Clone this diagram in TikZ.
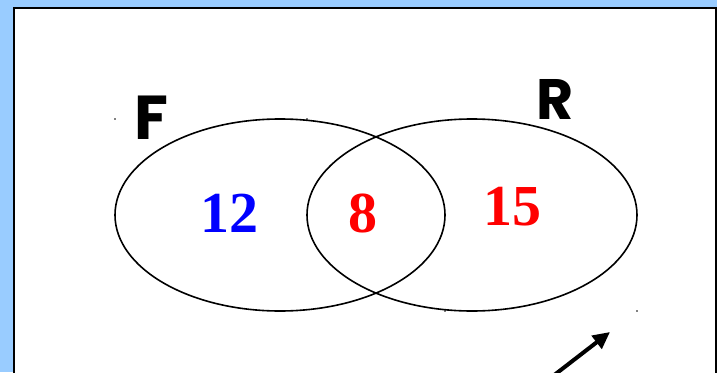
\documentclass[tikz,border=0pt]{standalone}
\usepackage{fontspec}
\usepackage{xcolor}
\usepackage{tikz}
\usetikzlibrary{arrows.meta,positioning}
\setmainfont{Liberation Serif}
\newfontfamily\setfont{Poppins}
\definecolor{slideBlue}{RGB}{153,204,255}
\definecolor{vennBlue}{RGB}{0,0,255}
\definecolor{vennRed}{RGB}{255,0,0}
\tikzset{
  setname/.style={inner sep=0pt, font=\setfont\bfseries\fontsize{62}{62}\selectfont},
  countlabel/.style={inner sep=0pt, font=\bfseries\fontsize{58}{58}\selectfont},
  handle/.style={fill=black, inner sep=0pt, minimum size=1.8pt, circle},
}

\begin{document}
\begin{tikzpicture}[x=1pt,y=-1pt]
    \useasboundingbox (0,0) rectangle (717,372);
    % slide frame
    \fill[slideBlue] (0,0) rectangle (717,372);
    \filldraw[fill=white, draw=black, line width=2pt] (13.5,7.5) rectangle (715.5,390);

    % the two sets
    \draw[line width=1.6pt] (280,215) ellipse [x radius=165, y radius=96];
    \draw[line width=1.6pt] (472,215) ellipse [x radius=165, y radius=96];

    % selection handles
    \node[handle] (hFa) at (115,119) {};
    \node[handle] (hFb) at (445,311) {};
    \node[handle] (hRa) at (307,119) {};
    \node[handle] (hRb) at (637,311) {};

    % labels
    \node[setname] (F) at (151,118) {F};
    \node[setname, font=\setfont\bfseries\fontsize{57}{57}\selectfont] (R) at (555,99) {R};
    \node[countlabel, text=vennBlue] (onlyF) at (229,213) {12};
    \node[countlabel, text=vennRed] (both) at (363,213) {8};
    \node[countlabel, text=vennRed] (onlyR) at (512,207) {15};

    % pointer
    \coordinate (tail) at (553,376);
    \coordinate (tip) at (610,332);
    \draw[line width=4pt, -{Triangle[length=17pt,width=16pt]}] (tail) -- (tip);
\end{tikzpicture}
\end{document}
